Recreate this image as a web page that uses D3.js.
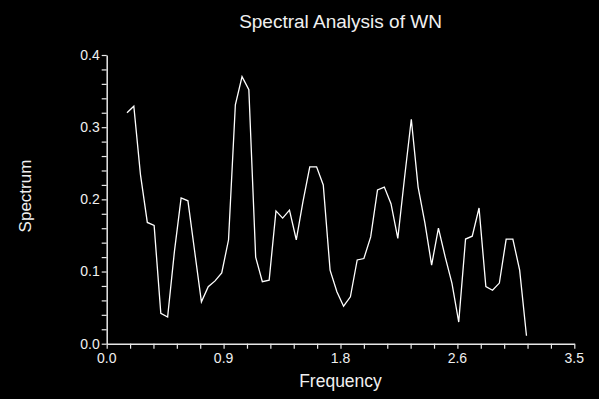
<!DOCTYPE html>
<html>
<head>
<meta charset="utf-8">
<script src="https://cdn.jsdelivr.net/npm/d3@7"></script>
<style>
  html, body { margin: 0; padding: 0; background: #000; }
  svg { display: block; }
  text { font-family: "Liberation Sans", Arial, sans-serif; fill: #f0f0f0; }
</style>
</head>
<body>
<svg id="chart" width="599" height="399"></svg>
<script>
const title = "Spectral Analysis of WN";
const xLabel = "Frequency";
const yLabel = "Spectrum";

const frequency = [0.152, 0.203, 0.253, 0.304, 0.355, 0.405, 0.456, 0.507, 0.557, 0.608,
  0.659, 0.709, 0.760, 0.811, 0.861, 0.912, 0.963, 1.013, 1.064, 1.115,
  1.165, 1.216, 1.267, 1.317, 1.368, 1.419, 1.469, 1.520, 1.571, 1.621,
  1.672, 1.723, 1.773, 1.824, 1.875, 1.925, 1.976, 2.027, 2.078, 2.128,
  2.179, 2.230, 2.280, 2.331, 2.382, 2.432, 2.483, 2.534, 2.584, 2.635,
  2.686, 2.736, 2.787, 2.838, 2.888, 2.939, 2.990, 3.040, 3.091, 3.142];

const spectrum = [0.320, 0.329, 0.234, 0.168, 0.164, 0.042, 0.037, 0.128, 0.202, 0.198,
  0.127, 0.058, 0.079, 0.087, 0.098, 0.144, 0.331, 0.370, 0.352, 0.120,
  0.086, 0.088, 0.184, 0.174, 0.185, 0.144, 0.197, 0.245, 0.245, 0.220,
  0.102, 0.072, 0.052, 0.065, 0.116, 0.118, 0.148, 0.213, 0.217, 0.194,
  0.146, 0.231, 0.311, 0.217, 0.167, 0.109, 0.160, 0.120, 0.084, 0.030,
  0.145, 0.149, 0.188, 0.079, 0.074, 0.084, 0.145, 0.145, 0.102, 0.011];

const xDomain = [0, 3.5];
const yDomain = [0, 0.4];
const xMajorTicks = [0, 0.875, 1.75, 2.625, 3.5];
const xTickLabels = ["0.0", "0.9", "1.8", "2.6", "3.5"];
const yMajorTicks = [0, 0.1, 0.2, 0.3, 0.4];
const yTickLabels = ["0.0", "0.1", "0.2", "0.3", "0.4"];

const svg = d3.select("#chart");
const plotLeft = 106.7, plotRight = 574.3, plotTop = 55, plotBottom = 343.7;

const x = d3.scaleLinear().domain(xDomain).range([plotLeft, plotRight]);
const y = d3.scaleLinear().domain(yDomain).range([plotBottom, plotTop]);

const axisColor = "#e8e8e8";

// minor ticks
const xMinor = d3.range(0, 21).map(i => i * 3.5 / 20);
const yMinor = d3.range(0, 21).map(i => i * 0.4 / 20);

const xAxis = svg.append("g").attr("transform", `translate(0,${plotBottom})`)
  .call(d3.axisBottom(x).tickValues(xMinor).tickSize(5).tickSizeOuter(0).tickFormat(""));
const yAxis = svg.append("g").attr("transform", `translate(${plotLeft},0)`)
  .call(d3.axisLeft(y).tickValues(yMinor).tickSize(5).tickSizeOuter(0).tickFormat(""));

[xAxis, yAxis].forEach(g => {
  g.selectAll("path").attr("stroke", axisColor).attr("stroke-width", 1.5);
  g.selectAll("line").attr("stroke", axisColor).attr("stroke-width", 1.2);
});

// major tick labels
svg.append("g").selectAll("text").data(xMajorTicks).join("text")
  .attr("x", d => x(d)).attr("y", plotBottom + 19)
  .attr("text-anchor", "middle").attr("font-size", 14)
  .text((d, i) => xTickLabels[i]);

svg.append("g").selectAll("text").data(yMajorTicks).join("text")
  .attr("x", plotLeft - 7).attr("y", d => y(d)).attr("dy", "0.35em")
  .attr("text-anchor", "end").attr("font-size", 14)
  .text((d, i) => yTickLabels[i]);

// line
const data = frequency.map((f, i) => ({ f, s: spectrum[i] }));
svg.append("path").datum(data)
  .attr("fill", "none").attr("stroke", "#ffffff").attr("stroke-width", 1.3)
  .attr("stroke-linejoin", "miter")
  .attr("d", d3.line().x(d => x(d.f)).y(d => y(d.s)));

// titles
svg.append("text").attr("x", 340.5).attr("y", 28)
  .attr("text-anchor", "middle").attr("font-size", 19).text(title);
svg.append("text").attr("x", 340.5).attr("y", 387)
  .attr("text-anchor", "middle").attr("font-size", 17.5).text(xLabel);
svg.append("text").attr("transform", "translate(30.5,196) rotate(-90)")
  .attr("text-anchor", "middle").attr("font-size", 17).text(yLabel);
</script>
</body>
</html>
